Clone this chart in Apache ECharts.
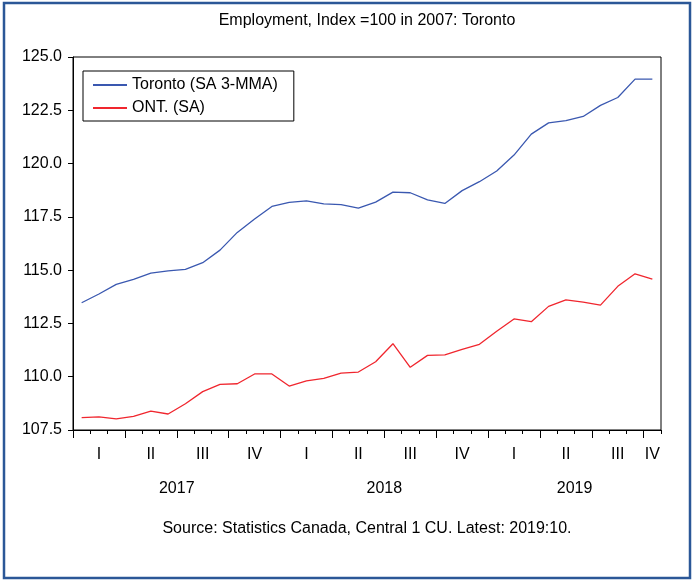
<!DOCTYPE html>
<html>
<head>
<meta charset="utf-8">
<script src="https://cdn.jsdelivr.net/npm/echarts@6/dist/echarts.min.js"></script>
<style>
html,body{margin:0;padding:0;background:#fff;}
#chart{width:692px;height:581px;}
</style>
</head>
<body>
<div id="chart"></div>
<script>
const months = [
  '2017M01','2017M02','2017M03','2017M04','2017M05','2017M06','2017M07','2017M08','2017M09','2017M10','2017M11','2017M12',
  '2018M01','2018M02','2018M03','2018M04','2018M05','2018M06','2018M07','2018M08','2018M09','2018M10','2018M11','2018M12',
  '2019M01','2019M02','2019M03','2019M04','2019M05','2019M06','2019M07','2019M08','2019M09','2019M10'
];
const toronto = [
  113.47,113.88,114.33,114.57,114.86,114.97,115.04,115.35,115.94,116.77,117.40,117.99,
  118.18,118.25,118.11,118.07,117.91,118.19,118.66,118.63,118.30,118.13,118.73,119.15,
  119.65,120.40,121.38,121.91,122.01,122.21,122.73,123.10,123.96,123.96
];
const ontario = [
  108.08,108.12,108.02,108.14,108.39,108.25,108.73,109.30,109.64,109.67,110.13,110.13,
  109.56,109.80,109.92,110.17,110.22,110.70,111.55,110.44,111.00,111.02,111.28,111.52,
  112.13,112.71,112.58,113.30,113.61,113.50,113.36,114.24,114.83,114.58
];
const seriesNames = ['Toronto (SA 3-MMA)', 'ONT. (SA)'];
const quarterNames = ['I','II','III','IV'];
const yTicks = { min: 107.5, max: 125.0, step: 2.5 };
const titleText = 'Employment, Index =100 in 2007: Toronto';
const sourceText = 'Source: Statistics Canada, Central 1 CU. Latest: 2019:10.';

// year label positions: middle of each year's months
const yearPos = {};
months.forEach((m, i) => {
  const y = m.slice(0, 4);
  if (!yearPos[y]) yearPos[y] = { first: i, last: i };
  yearPos[y].last = i;
});
const yearCenters = {};
Object.keys(yearPos).forEach(y => { yearCenters[(yearPos[y].first + yearPos[y].last + 1) / 2] = y; });

const FONT = 'Liberation Sans, Arial, sans-serif';
const GL = 73, GR = 31, GT = 57, GB = 151;
const plotW = 692 - GL - GR;
const band = plotW / months.length;
const nQuarterBounds = Math.floor((months.length - 1) / 3) * 3;

const chart = echarts.init(document.getElementById('chart'), null, { renderer: 'canvas' });
chart.setOption({
  animation: false,
  backgroundColor: '#ffffff',
  textStyle: { fontFamily: FONT },
  title: [
    { text: titleText, left: GL + plotW / 2, top: 13, padding: 0, textAlign: 'center',
      textStyle: { fontFamily: FONT, fontSize: 16, fontWeight: 'normal', color: '#000' } },
    { text: sourceText, left: GL + plotW / 2, top: 521, padding: 0, textAlign: 'center',
      textStyle: { fontFamily: FONT, fontSize: 16, fontWeight: 'normal', color: '#000' } }
  ],
  legend: {
    orient: 'vertical', left: 83, top: 71,
    data: seriesNames,
    itemWidth: 34, itemHeight: 14, itemGap: 7,
    padding: [6, 16, 5, 9],
    borderColor: '#000', borderWidth: 1, backgroundColor: '#fff',
    itemStyle: { opacity: 0 },
    textStyle: { fontFamily: FONT, fontSize: 16, color: '#000' }
  },
  grid: [
    { left: GL, right: GR, top: GT, bottom: GB, show: true, borderColor: '#000', borderWidth: 1, backgroundColor: 'transparent' },
    { left: GL, width: band * nQuarterBounds, top: GT, bottom: GB, show: false }
  ],
  xAxis: [
    {
      type: 'category', gridIndex: 0, data: months, boundaryGap: true,
      axisLine: { lineStyle: { color: '#000', width: 1 } },
      axisTick: { show: true, interval: 0, length: 4, lineStyle: { color: '#000' } },
      axisLabel: {
        interval: (i) => i % 3 === 1 || i === months.length - 1,
        formatter: (v) => quarterNames[Math.floor((parseInt(v.slice(5), 10) - 1) / 3)],
        fontFamily: FONT, fontSize: 16, color: '#000', margin: 17
      },
      splitLine: { show: false }
    },
    {
      type: 'value', gridIndex: 1, min: 0, max: nQuarterBounds, interval: 3, position: 'bottom',
      axisLine: { show: false },
      axisTick: { show: true, length: 8, lineStyle: { color: '#000' } },
      axisLabel: { show: false }, splitLine: { show: false }
    },
    {
      type: 'value', gridIndex: 0, min: 0, max: months.length, interval: 0.5, position: 'bottom', offset: 0,
      axisLine: { show: false }, axisTick: { show: false }, splitLine: { show: false },
      axisLabel: {
        formatter: (v) => yearCenters[v] || '',
        fontFamily: FONT, fontSize: 16, color: '#000', margin: 51, showMinLabel: true, showMaxLabel: true
      }
    }
  ],
  yAxis: [
    {
      type: 'value', gridIndex: 0, min: yTicks.min, max: yTicks.max, interval: yTicks.step,
      axisLine: { show: true, lineStyle: { color: '#000' } },
      axisTick: { show: true, length: 5, lineStyle: { color: '#000' } },
      axisLabel: { formatter: (v) => v.toFixed(1), fontFamily: FONT, fontSize: 16, color: '#000', margin: 11 },
      splitLine: { show: false }
    },
    { type: 'value', gridIndex: 1, min: 0, max: 1, show: false }
  ],
  series: [
    { name: seriesNames[0], type: 'line', xAxisIndex: 0, yAxisIndex: 0, data: toronto,
      symbol: 'none', lineStyle: { color: '#3a58b0', width: 1.3 }, itemStyle: { color: '#3a58b0' } },
    { name: seriesNames[1], type: 'line', xAxisIndex: 0, yAxisIndex: 0, data: ontario,
      symbol: 'none', lineStyle: { color: '#f0262e', width: 1.3 }, itemStyle: { color: '#f0262e' } }
  ],
  graphic: [
    { type: 'rect', shape: { x: 4, y: 3, width: 686, height: 575 }, style: { fill: 'none', stroke: '#2b5797', lineWidth: 2.5 }, silent: true }
  ]
});
</script>
</body>
</html>
